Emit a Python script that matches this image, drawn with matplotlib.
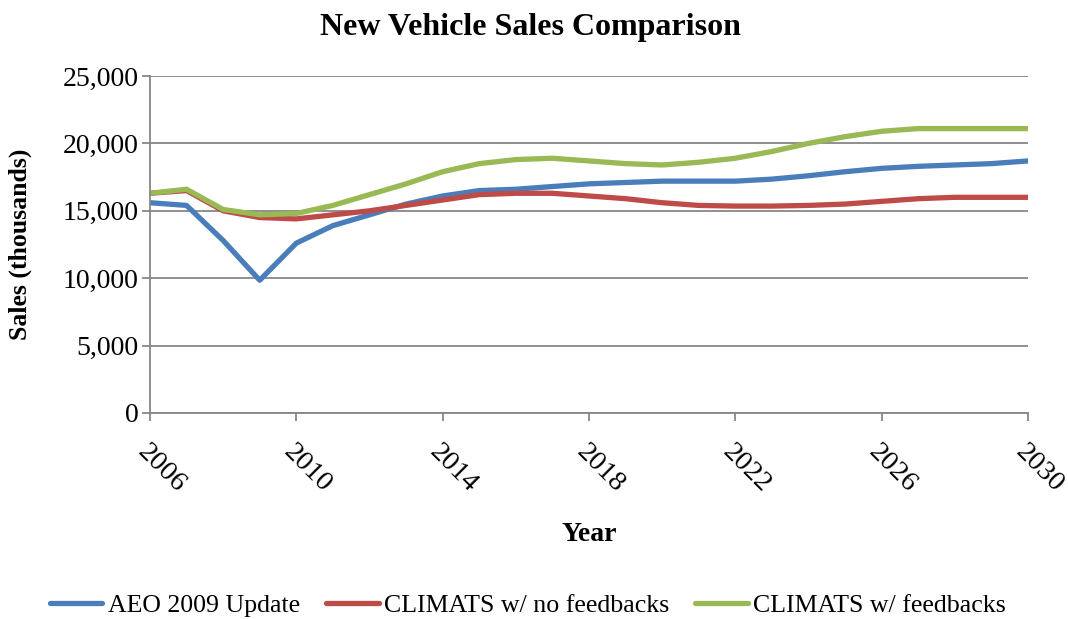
import matplotlib
matplotlib.use("Agg")
import matplotlib.pyplot as plt
from matplotlib.ticker import FuncFormatter, MultipleLocator, FixedLocator

years = list(range(2006, 2031))
aeo_2009 = [15600, 15400, 12800, 9850, 12600, 13900, 14700, 15500, 16100, 16500,
            16600, 16800, 17000, 17100, 17200, 17200, 17200, 17350, 17600, 17900,
            18150, 18300, 18400, 18500, 18700]
climats_no_fb = [16300, 16500, 15000, 14500, 14400, 14700, 15000, 15400, 15800, 16200,
                 16300, 16300, 16100, 15900, 15600, 15400, 15350, 15350, 15400, 15500,
                 15700, 15900, 16000, 16000, 16000]
climats_fb = [16300, 16600, 15100, 14700, 14800, 15400, 16200, 17000, 17900, 18500,
              18800, 18900, 18700, 18500, 18400, 18600, 18900, 19400, 20000, 20500,
              20900, 21100, 21100, 21100, 21100]
year_ticks = [2006, 2010, 2014, 2018, 2022, 2026, 2030]
series_names = ["AEO 2009 Update", "CLIMATS w/ no feedbacks", "CLIMATS w/ feedbacks"]
colors = ["#4A7EBB", "#BE4B48", "#98B954"]

plt.rcParams["font.family"] = ["Liberation Serif", "DejaVu Serif"]

fig = plt.figure(figsize=(10.68, 6.19), dpi=100)
ax = fig.add_axes([0.1404, 0.3328, 0.8221, 0.5444])

for vals, name, c in zip([aeo_2009, climats_no_fb, climats_fb], series_names, colors):
    ax.plot(years, vals, color=c, lw=3.8, label=name,
            solid_joinstyle="round", solid_capstyle="round")

ax.set_xlim(2006, 2030)
ax.set_ylim(0, 25000)
ax.yaxis.set_major_locator(MultipleLocator(5000))
ax.xaxis.set_major_locator(FixedLocator(year_ticks))
ax.yaxis.set_major_formatter(FuncFormatter(lambda v, p: f"{int(v):,}"))
ax.grid(axis="y", color="#878787", lw=1.3)
ax.set_axisbelow(True)

for s in ["top", "right"]:
    ax.spines[s].set_visible(False)
for s in ["left", "bottom"]:
    ax.spines[s].set_color("#878787")
    ax.spines[s].set_linewidth(1.3)

ax.tick_params(axis="y", length=6, width=1.3, color="#878787", labelsize=20, pad=2)
ax.tick_params(axis="x", length=6, width=1.3, color="#878787", labelsize=20.5, pad=13)
for lbl in ax.get_xticklabels():
    lbl.set_rotation(-45)
    lbl.set_rotation_mode("anchor")
    lbl.set_ha("left")
    lbl.set_va("top")

fig.text(0.497, 0.955, "New Vehicle Sales Comparison", fontsize=23, fontweight="bold",
         ha="center", va="center")
ax.set_ylabel("Sales (thousands)", fontsize=18.5, fontweight="bold", labelpad=22)
fig.text(0.552, 0.136, "Year", fontsize=20, fontweight="bold", ha="center", va="center")

fig.legend(loc="center", bbox_to_anchor=(0.494, 0.022), ncol=3, frameon=False,
           fontsize=18.6, handlelength=2.05, columnspacing=1.0, handletextpad=0.2,
           borderpad=0.2)

fig.savefig("out.png", dpi=100)
